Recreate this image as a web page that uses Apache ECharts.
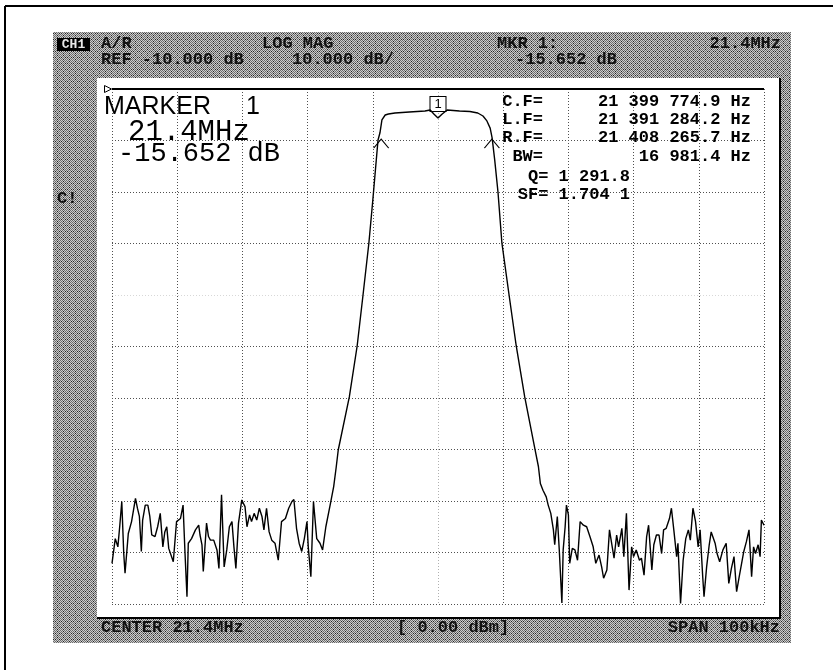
<!DOCTYPE html>
<html>
<head>
<meta charset="utf-8">
<script src="https://cdn.jsdelivr.net/npm/echarts@6/dist/echarts.min.js"></script>
<style>
html,body{margin:0;padding:0;background:#fff;}
#chart{width:833px;height:670px;}
</style>
</head>
<body>
<div id="chart"></div>
<script>
// ---------------- data ----------------
const CENTER_MHZ = 21.4;
const SPAN_KHZ = 100;
const REF_DB = -10;
const SCALE_DB_PER_DIV = 10;
const SOURCE_POWER_DBM = 0;
const MARKER_OFFSET_KHZ = 0;
const MARKER_DB = -15.652;
const CF_HZ = 21399774.9;
const LF_HZ = 21391284.2;
const RF_HZ = 21408265.7;
const BW_HZ = 16981.4;
const Q_VALUE = 1291.8;
const SF_VALUE = 1.7041;
const BW_LEVEL_DB = MARKER_DB - 3;

// noise floor below the passband (frequency offset from centre, kHz)
const noiseLowKHz = [-50,-49.5,-49.1,-48.8,-48.5,-48.2,-48.0,-47.5,-47.0,-46.4,
 -46.1,-45.8,-45.5,-45.3,-44.9,-44.5,-44.2,-43.9,-43.4,-43.0,
 -42.6,-42.2,-41.9,-41.6,-41.3,-41.0,-40.6,-40.1,-39.5,-39.1,
 -38.8,-38.5,-38.3,-37.8,-37.2,-36.7,-36.5,-36.2,-36.0,-35.5,
 -35.2,-34.9,-34.4,-33.9,-33.6,-33.2,-32.8,-32.4,-32.0,-31.6,
 -31.3,-31.0,-30.6,-30.1,-29.6,-29.3,-28.9,-28.6,-28.2,-27.8,
 -27.4,-27.0,-26.7,-26.3,-25.9,-25.5,-25.0,-24.5,-24.0,-23.4,
 -22.9,-22.4,-22.1,-21.7,-21.3,-20.9,-20.5,-20.1,-19.9,-19.5,
 -19.1,-18.6,-18.1,-17.7,-17.2,-16.5,-16.0,-15.6];
const noiseLowDb = [-102.1,-97.3,-98.9,-94.7,-90.1,-100.2,-104.0,-96.3,-94.0,-89.5,
 -91.4,-93.0,-99.8,-93.7,-90.8,-90.8,-93.0,-96.6,-96.9,-95.0,
 -92.4,-98.9,-96.0,-95.0,-99.2,-99.5,-101.8,-94.0,-93.4,-90.8,
 -100.2,-108.6,-98.2,-97.3,-95.6,-94.7,-96.6,-98.5,-103.7,-94.3,
 -96.9,-97.6,-97.6,-99.5,-103.1,-88.8,-102.8,-99.5,-95.0,-94.0,
 -98.9,-103.1,-94.3,-89.8,-91.1,-95.0,-92.7,-94.0,-92.4,-93.7,
 -91.4,-93.0,-95.6,-91.4,-96.0,-97.6,-98.2,-101.5,-94.0,-93.4,
 -91.4,-90.1,-89.7,-95.3,-98.2,-99.8,-97.3,-94.0,-98.9,-104.7,
 -90.1,-97.3,-98.2,-99.5,-95.0,-90.5,-87.2,-83.3];

// filter skirts and passband
const filterKHz = [-15.3,-13.6,-12.4,-11.5,-10.6,-10.0,-9.2,-8.9,-8.6,-8.1,
 -7.6,-6.6,-4.4,-2.0,-1.2,-0.6,0,0.6,1.4,3.3,
 4.9,6.1,6.9,7.5,8.0,8.3,8.7,9.2,9.8,10.9,
 12.0,13.3,14.9];
const filterDb = [-80.1,-69.8,-59.9,-50.0,-39.9,-31.6,-19.9,-18.5,-16.0,-15.05,
 -14.85,-14.66,-14.47,-14.27,-14.08,-14.9,-15.652,-14.9,-14.08,-14.27,
 -14.37,-14.66,-15.24,-16.2,-17.6,-19.5,-23.8,-30.0,-39.9,-50.0,
 -59.9,-69.8,-80.1];

// noise floor above the passband
const noiseHighKHz = [15.4,15.7,16.1,16.6,16.9,17.3,17.7,17.9,18.3,18.6,
 19.0,19.2,19.5,19.7,20.0,20.2,20.6,21.0,21.4,21.8,
 22.3,22.8,23.3,23.8,24.2,24.7,25.1,25.4,25.9,26.3,
 26.6,27.0,27.4,27.7,28.2,28.5,28.9,29.3,29.7,30.0,
 30.4,30.9,31.2,31.6,32.0,32.3,32.8,33.1,33.5,33.9,
 34.3,34.6,35.0,35.5,35.8,36.2,36.6,36.8,37.2,37.6,
 38.0,38.4,38.7,39.1,39.5,39.9,40.2,40.6,40.8,41.2,
 41.6,41.9,42.5,42.8,43.2,43.7,44.2,44.6,45.0,45.4,
 45.8,46.2,46.5,46.9,47.3,47.7,48.1,48.4,48.7,49.1,
 49.4,49.6,50.0];
const noiseHighDb = [-83.3,-86.6,-87.9,-89.2,-90.8,-92.4,-95.6,-98.5,-93.0,-99.5,
 -109.8,-99.5,-95.0,-90.8,-92.7,-102.1,-99.2,-99.5,-101.5,-94.0,
 -94.7,-95.0,-96.9,-98.9,-102.1,-100.5,-102.8,-105.0,-103.4,-95.6,
 -95.6,-101.1,-96.6,-98.9,-95.3,-100.8,-92.4,-107.3,-98.9,-100.8,
 -99.5,-101.5,-101.1,-104.4,-96.9,-94.7,-103.4,-98.5,-96.6,-96.6,
 -100.2,-95.6,-95.3,-93.4,-91.4,-96.0,-100.8,-98.2,-109.9,-101.5,
 -97.3,-95.6,-97.6,-91.4,-94.0,-98.9,-95.6,-104.7,-108.6,-102.8,
 -98.5,-96.0,-98.2,-100.2,-101.8,-99.5,-98.2,-106.0,-103.1,-100.8,
 -107.6,-104.7,-105.0,-99.8,-97.9,-95.6,-104.7,-98.9,-100.2,-98.5,
 -100.8,-93.7,-94.7];

// ---------------- helpers ----------------
const traceKHz = noiseLowKHz.concat(filterKHz, noiseHighKHz);
const traceDb = noiseLowDb.concat(filterDb, noiseHighDb);
const trace = traceKHz.map((k, i) => [k, traceDb[i]]);

function groupInt(s){ return s.replace(/\B(?=(\d{3})+(?!\d))/g, ' '); }
function fmtGrouped(v, dec){
  const s = v.toFixed(dec); const p = s.split('.');
  return groupInt(p[0]) + (p[1] ? '.' + p[1] : '');
}
function fmtFracGrouped(v, dec){
  const s = v.toFixed(dec); const p = s.split('.');
  return p[0] + '.' + p[1].replace(/(\d{3})(?=\d)/g, '$1 ');
}
const hzToKHzOffset = hz => (hz - CENTER_MHZ * 1e6) / 1000;

function makeHatch(){
  const c = document.createElement('canvas');
  c.width = 6; c.height = 6;
  const ctx = c.getContext('2d');
  ctx.fillStyle = '#cdcdcd'; ctx.fillRect(0,0,6,6);
  ctx.fillStyle = '#6c6c6c';
  // woven-looking dither
  const mid = [[0,0],[2,0],[4,0],[1,1],[5,1],[0,2],[2,2],[4,2],[3,3],[0,4],[2,4],[4,4],[1,5],[5,5]];
  mid.forEach(p => ctx.fillRect(p[0], p[1], 1, 1));
  ctx.fillStyle = '#262626';
  [[3,1],[1,3],[5,3],[3,5]].forEach(p => ctx.fillRect(p[0], p[1], 1, 1));
  return c;
}

const HDR_FONT = 'bold 17px "Liberation Mono"';
const TXT = '#111111';
function txt(text, x, y, font, align, color){
  return {type:'text', z: 50, silent:true,
    style:{text, x, y, font: font || HDR_FONT, fill: color || TXT,
      textAlign: align || 'left', textVerticalAlign:'middle'}};
}

const hatch = makeHatch();
const chart = echarts.init(document.getElementById('chart'), null, {renderer:'canvas'});

const halfSpan = SPAN_KHZ / 2;
const vColors = []; for (let i = 0; i <= 10; i++) vColors.push(i === 5 ? '#b0b0b0' : '#505050');
const hColors = []; for (let i = 0; i <= 10; i++) hColors.push(i === 6 ? '#d8d8d8' : '#505050');

const option = {
  animation: false,
  backgroundColor: '#ffffff',
  grid: {left: 112, right: 69, top: 89, bottom: 66, containLabel: false},
  xAxis: {
    type: 'value', min: -halfSpan, max: halfSpan, interval: SPAN_KHZ / 10,
    axisLine: {show: false}, axisTick: {show: false}, axisLabel: {show: false},
    splitLine: {show: true, showMinLine: true, showMaxLine: true,
      lineStyle: {type: [1, 2], color: vColors, width: 1}}
  },
  yAxis: {
    type: 'value', min: REF_DB - 10 * SCALE_DB_PER_DIV, max: REF_DB, interval: SCALE_DB_PER_DIV,
    axisLine: {show: false}, axisTick: {show: false}, axisLabel: {show: false},
    splitLine: {show: true, showMinLine: true, showMaxLine: true,
      lineStyle: {type: [1, 2], color: hColors, width: 1}}
  },
  series: [{
    type: 'line', data: trace, showSymbol: false, silent: true,
    lineStyle: {color: '#000', width: 1.4}, z: 5,
    markLine: {
      silent: true, symbol: ['none','none'],
      label: {show: false},
      lineStyle: {type: 'solid', color: '#000', width: 2},
      data: [{yAxis: REF_DB}]
    },
    markPoint: {
      silent: true,
      data: [
        {coord: [MARKER_OFFSET_KHZ, MARKER_DB], symbol: 'rect', symbolSize: [16, 15], symbolOffset: [0, -14],
          itemStyle: {color: '#fff', borderColor: '#000', borderWidth: 1},
          label: {show: true, position: 'inside', formatter: '1', color: '#000', fontFamily: 'Liberation Sans', fontSize: 13}},
        {coord: [hzToKHzOffset(LF_HZ), BW_LEVEL_DB], symbol: 'path://M0,10 L8,0 L16,10', symbolSize: [15, 9], symbolOffset: [0, 10],
          itemStyle: {color: 'none', borderColor: '#000', borderWidth: 1}, label: {show: false}},
        {coord: [hzToKHzOffset(RF_HZ), BW_LEVEL_DB], symbol: 'path://M0,10 L8,0 L16,10', symbolSize: [15, 9], symbolOffset: [0, 10],
          itemStyle: {color: 'none', borderColor: '#000', borderWidth: 1}, label: {show: false}},
        {coord: [-halfSpan, REF_DB], symbol: 'path://M0,0 L8,4 L0,8 Z', symbolSize: [7, 7], symbolOffset: [-4, 0],
          itemStyle: {color: '#fff', borderColor: '#000', borderWidth: 1}, label: {show: false}}
      ]
    }
  }],
  graphic: {elements: [
    // outer frame
    {type:'line', z:-100, silent:true, shape:{x1:5, y1:6, x2:833, y2:6}, style:{stroke:'#000', lineWidth:2}},
    {type:'line', z:-100, silent:true, shape:{x1:5, y1:6, x2:5, y2:670}, style:{stroke:'#000', lineWidth:2}},
    // hatched screen border
    {type:'rect', z:-100, silent:true, shape:{x:53, y:32, width:738, height:611}, style:{fill:{image: hatch, repeat:'repeat'}}},
    // white plot panel with shadow
    {type:'rect', z:-99, silent:true, shape:{x:97, y:78, width:684, height:541}, style:{fill:'#000'}},
    {type:'rect', z:-98, silent:true, shape:{x:97, y:78, width:682, height:539}, style:{fill:'#fff'}},
    // header
    {type:'rect', z:40, silent:true, shape:{x:57, y:38, width:33, height:13}, style:{fill:'#000'}},
    txt('CH1', 73.5, 44.5, 'bold 13px "Liberation Mono"', 'center', '#e8e8e8'),
    txt('A/R', 101, 44),
    txt('LOG MAG', 262, 44),
    txt('MKR 1:', 497, 44),
    txt(CENTER_MHZ + 'MHz', 781, 44, null, 'right'),
    txt('REF ' + REF_DB.toFixed(3) + ' dB', 101, 60),
    txt(SCALE_DB_PER_DIV.toFixed(3) + ' dB/', 292, 60),
    txt(MARKER_DB.toFixed(3) + ' dB', 515, 60),
    txt('C!', 57, 199),
    // footer
    txt('CENTER ' + CENTER_MHZ + 'MHz', 101, 628),
    txt('[ ' + SOURCE_POWER_DBM.toFixed(2) + ' dBm]', 397, 628),
    txt('SPAN ' + SPAN_KHZ + 'kHz', 780, 628, null, 'right'),
    // marker readout
    txt('MARKER', 104, 107, '25px "Liberation Sans"', 'left', '#000'),
    txt('1', 246, 107, '25px "Liberation Sans"', 'left', '#000'),
    txt(CENTER_MHZ + 'MHz', 128, 132, '29px "Liberation Mono"', 'left', '#000'),
    txt(MARKER_DB.toFixed(3) + ' dB', 118, 154, '27px "Liberation Mono"', 'left', '#000'),
    // filter analysis block
    txt('C.F=', 543, 102, null, 'right', '#000'),
    txt(fmtGrouped(CF_HZ, 1) + ' Hz', 751, 102, null, 'right', '#000'),
    txt('L.F=', 543, 120, null, 'right', '#000'),
    txt(fmtGrouped(LF_HZ, 1) + ' Hz', 751, 120, null, 'right', '#000'),
    txt('R.F=', 543, 138, null, 'right', '#000'),
    txt(fmtGrouped(RF_HZ, 1) + ' Hz', 751, 138, null, 'right', '#000'),
    txt('BW=', 543, 157, null, 'right', '#000'),
    txt(fmtGrouped(BW_HZ, 1) + ' Hz', 751, 157, null, 'right', '#000'),
    txt('Q= ' + fmtGrouped(Q_VALUE, 1), 630, 177, null, 'right', '#000'),
    txt('SF= ' + fmtFracGrouped(SF_VALUE, 4), 630, 195, null, 'right', '#000')
  ]}
};
chart.setOption(option);
</script>
</body>
</html>
